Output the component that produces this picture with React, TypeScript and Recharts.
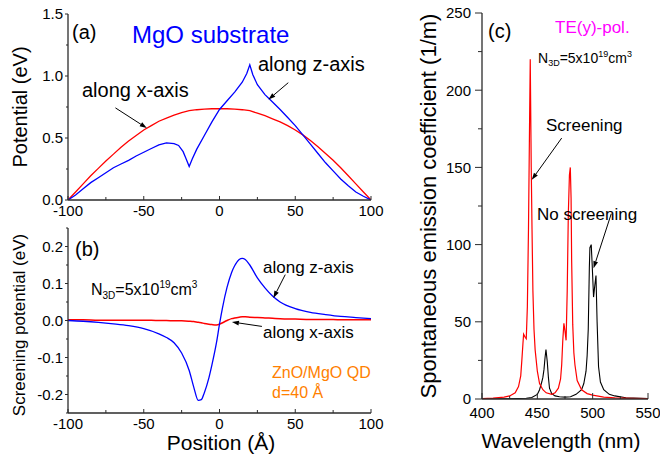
import React from 'react';
import { LineChart, Line, XAxis, YAxis, ReferenceLine } from 'recharts';

const FONT = '"Liberation Sans", Arial, Helvetica, sans-serif';
const AXIS = '#2b2b2b';

// (a) potential profile across the dot
const potX = [-100, -95, -90, -85, -80, -75, -70, -65, -60, -55, -50, -45, -40, -35, -30, -25, -20, -15, -10, -5, 0, 5, 10, 15, 20, 25, 30, 35, 40, 45, 50, 55, 60, 65, 70, 75, 80, 85, 90, 95, 100];
const potAlongX = [0, 0.065, 0.13, 0.195, 0.255, 0.315, 0.37, 0.425, 0.475, 0.52, 0.565, 0.6, 0.635, 0.66, 0.685, 0.705, 0.72, 0.728, 0.733, 0.736, 0.737, 0.736, 0.733, 0.728, 0.72, 0.7, 0.68, 0.655, 0.63, 0.6, 0.565, 0.525, 0.48, 0.43, 0.375, 0.32, 0.26, 0.195, 0.13, 0.065, 0];
const potZX = [-100, -95, -90, -85, -80, -75, -70, -65, -60, -55, -50, -45, -40, -35, -30, -27, -24, -22, -20, -18, -15, -10, -5, 0, 5, 10, 15, 18, 20, 22, 25, 30, 35, 40, 45, 50, 55, 60, 65, 70, 75, 80, 85, 90, 95, 100];
const potAlongZ = [0, 0.04, 0.09, 0.14, 0.18, 0.22, 0.26, 0.29, 0.32, 0.355, 0.385, 0.415, 0.445, 0.46, 0.455, 0.44, 0.39, 0.33, 0.27, 0.33, 0.41, 0.52, 0.63, 0.73, 0.8, 0.87, 0.95, 1.02, 1.09, 1.01, 0.93, 0.85, 0.79, 0.73, 0.665, 0.6, 0.525, 0.45, 0.375, 0.3, 0.235, 0.17, 0.115, 0.065, 0.03, 0];

// (b) screening potential
const scrX = [-100, -90, -80, -70, -60, -50, -40, -35, -30, -25, -20, -17, -14, -12, -10, -7, -5, -2, 0, 2, 5, 8, 10, 13, 15, 17, 20, 25, 30, 35, 40, 50, 60, 70, 80, 90, 100];
const scrAlongZ = [0, -0.002, -0.005, -0.009, -0.014, -0.022, -0.036, -0.046, -0.06, -0.088, -0.135, -0.18, -0.216, -0.214, -0.195, -0.155, -0.12, -0.06, -0.01, 0.035, 0.09, 0.13, 0.148, 0.165, 0.168, 0.165, 0.15, 0.115, 0.088, 0.066, 0.05, 0.032, 0.022, 0.016, 0.011, 0.008, 0.005];
const scrAlongX = [0.002, 0.002, 0.001, 0.001, 0.001, 0.001, 0, 0, -0.001, -0.001, -0.002, -0.003, -0.005, -0.006, -0.008, -0.01, -0.011, -0.012, -0.01, -0.006, 0, 0.005, 0.007, 0.009, 0.01, 0.01, 0.009, 0.008, 0.007, 0.006, 0.005, 0.004, 0.003, 0.003, 0.002, 0.002, 0.002];

// (c) spontaneous emission spectra
const wlRed = [400, 410, 420, 425, 430, 433, 435, 436, 437, 437.6, 439, 440, 441, 442, 443, 443.6, 444.5, 445.2, 446, 447, 448, 450, 452, 455, 458, 463, 466, 469, 471, 472, 473, 474, 475, 476, 477, 478, 479, 479.8, 480.5, 481, 482, 483, 484, 486, 490, 495, 500, 510, 520, 535, 550];
const screened = [0.3, 0.6, 1.2, 2, 4, 8, 15, 25, 36, 42, 40, 39, 60, 110, 180, 220, 150, 110, 70, 45, 32, 18, 10, 6, 4, 3, 4, 7, 13, 22, 38, 49, 44, 38, 70, 120, 145, 150, 130, 90, 48, 30, 22, 12, 6, 3.5, 2.5, 1.2, 0.7, 0.4, 0.3];
const wlBlack = [400, 420, 440, 445, 450, 452, 454, 455, 456, 457, 457.8, 459, 460, 461, 463, 466, 470, 475, 480, 485, 490, 492, 494, 495, 496, 497, 497.5, 498.7, 499.5, 500.8, 502, 503, 504, 505.3, 507, 510, 515, 520, 530, 550];
const noScreen = [0, 0.1, 0.5, 1, 3, 6, 11, 14, 19, 27, 32, 24, 14, 7, 3.5, 2, 1.5, 1.2, 1.5, 3, 6, 10, 18, 28, 45, 85, 98, 100, 88, 66, 74, 80, 50, 21, 11, 6, 3, 2, 0.8, 0.3];

const posTicks = [-100, -75, -50, -25, 0, 25, 50, 75, 100];
const posLabels = [-100, -50, 0, 50, 100];
const potTicks = [0, 0.25, 0.5, 0.75, 1, 1.25, 1.5];
const potLabels = [0, 0.5, 1, 1.5];
const scrTicks = [-0.25, -0.2, -0.15, -0.1, -0.05, 0, 0.05, 0.1, 0.15, 0.2, 0.25];
const scrLabels = [-0.2, -0.1, 0, 0.1, 0.2];
const wlTicks = [400, 425, 450, 475, 500, 525, 550];
const wlLabels = [400, 450, 500, 550];
const emTicks = [0, 25, 50, 75, 100, 125, 150, 175, 200, 225, 250];
const emLabels = [0, 50, 100, 150, 200, 250];

const pts = (xs: number[], ys: number[]) => xs.map((x, i) => ({ x, y: ys[i] }));

type Side = 'bottom' | 'top' | 'left' | 'right';
type TickOpt = {
  side: Side;
  labels?: number[];
  fmt?: (v: number) => string;
  major: number;
  minor: number;
  majorSet: number[];
  size?: number;
  gap?: number;
};

// tick marks (inward for x, outward on the left) plus labels
const tickFn = (o: TickOpt) => (p: any) => {
  const v = p.payload.value;
  const { x, y } = p;
  const isMajor = o.majorSet.some((m) => Math.abs(m - v) < 1e-9);
  const len = isMajor ? o.major : o.minor;
  const hasLabel = o.labels && o.labels.some((m) => Math.abs(m - v) < 1e-9);
  const txt = hasLabel ? (o.fmt ? o.fmt(v) : String(v)) : '';
  const size = o.size || 14;
  const gap = o.gap || 0;
  let ln = null;
  let label = null;
  if (o.side === 'bottom') {
    ln = <line x1={x} x2={x} y1={y} y2={y - len} stroke={AXIS} strokeWidth={1} />;
    if (txt) label = <text x={x} y={y + gap} textAnchor="middle" fontSize={size} fill="#000" fontFamily={FONT}>{txt}</text>;
  } else if (o.side === 'top') {
    ln = <line x1={x} x2={x} y1={y} y2={y + len} stroke={AXIS} strokeWidth={1} />;
  } else if (o.side === 'left') {
    ln = <line x1={x - len} x2={x} y1={y} y2={y} stroke={AXIS} strokeWidth={1} />;
    if (txt) label = <text x={x - gap} y={y + size * 0.36} textAnchor="end" fontSize={size} fill="#000" fontFamily={FONT}>{txt}</text>;
  } else {
    ln = <line x1={x - len} x2={x} y1={y} y2={y} stroke={AXIS} strokeWidth={1} />;
  }
  return <g>{ln}{label}</g>;
};

const Arrow = (p: any) => {
  const { x1, y1, x2, y2 } = p;
  const a = Math.atan2(y2 - y1, x2 - x1);
  const L = 7;
  const W = 2.4;
  const bx = x2 - L * Math.cos(a);
  const by = y2 - L * Math.sin(a);
  const head = `${x2},${y2} ${bx - W * Math.sin(a)},${by + W * Math.cos(a)} ${bx + W * Math.sin(a)},${by - W * Math.cos(a)}`;
  return (
    <g>
      <line x1={x1} y1={y1} x2={bx} y2={by} stroke="#000" strokeWidth={1} />
      <polygon points={head} fill="#000" />
    </g>
  );
};

const axisLine = { stroke: AXIS, strokeWidth: 1.3 };

export default function App() {
  const f1 = (v: number) => v.toFixed(1);
  return (
    <div style={{ position: 'absolute', left: 0, top: 0, width: 660, height: 459, background: '#fff', fontFamily: FONT }}>
      {/* (a) */}
      <div style={{ position: 'absolute', left: 0, top: 0 }}>
        <LineChart width={395} height={225} margin={{ top: 14, right: 24, bottom: 0, left: 0 }}>
          <XAxis dataKey="x" type="number" domain={[-100, 100]} ticks={posTicks} interval={0} allowDataOverflow
            height={25} tickSize={0} tickMargin={0} tickLine={false} axisLine={axisLine}
            tick={tickFn({ side: 'bottom', labels: posLabels, majorSet: posLabels, major: 4, minor: 3, gap: 16, size: 15 })} />
          <XAxis xAxisId="top" orientation="top" type="number" domain={[-100, 100]} ticks={posTicks} interval={0} allowDataOverflow
            height={0} tickSize={0} tickMargin={0} tickLine={false} axisLine={axisLine}
            tick={tickFn({ side: 'top', majorSet: posLabels, major: 4, minor: 3 })} />
          <YAxis type="number" domain={[0, 1.5]} ticks={potTicks} interval={0} allowDataOverflow
            width={68} tickSize={0} tickMargin={0} tickLine={false} axisLine={axisLine}
            tick={tickFn({ side: 'left', labels: potLabels, majorSet: potLabels, fmt: f1, major: 3, minor: 2, gap: 5, size: 15 })} />
          <YAxis yAxisId="right" orientation="right" type="number" domain={[0, 1.5]} ticks={potTicks} interval={0} allowDataOverflow
            width={0} tickSize={0} tickMargin={0} tickLine={false} axisLine={axisLine}
            tick={tickFn({ side: 'right', majorSet: potLabels, major: 4, minor: 3 })} />
          <Line data={pts(potX, potAlongX)} dataKey="y" type="linear" stroke="#ff0000" strokeWidth={1.3} dot={false} isAnimationActive={false} />
          <Line data={pts(potZX, potAlongZ)} dataKey="y" type="linear" stroke="#0000ff" strokeWidth={1.3} dot={false} isAnimationActive={false} />
          <ReferenceLine segment={[{ x: -68.7, y: 0.743 }, { x: -48, y: 0.58 }]} shape={Arrow} ifOverflow="visible" />
          <ReferenceLine segment={[{ x: 45.4, y: 0.946 }, { x: 32.3, y: 0.81 }]} shape={Arrow} ifOverflow="visible" />
        </LineChart>
      </div>

      {/* (b) */}
      <div style={{ position: 'absolute', left: 0, top: 214 }}>
        <LineChart width={395} height={224} margin={{ top: 14, right: 24, bottom: 0, left: 0 }}>
          <XAxis dataKey="x" type="number" domain={[-100, 100]} ticks={posTicks} interval={0} allowDataOverflow
            height={25} tickSize={0} tickMargin={0} tickLine={false} axisLine={axisLine}
            tick={tickFn({ side: 'bottom', labels: posLabels, majorSet: posLabels, major: 4, minor: 3, gap: 16, size: 15 })} />
          <XAxis xAxisId="top" orientation="top" type="number" domain={[-100, 100]} ticks={posTicks} interval={0} allowDataOverflow
            height={0} tickSize={0} tickMargin={0} tickLine={false} axisLine={axisLine}
            tick={tickFn({ side: 'top', majorSet: posLabels, major: 4, minor: 3 })} />
          <YAxis type="number" domain={[-0.25, 0.25]} ticks={scrTicks} interval={0} allowDataOverflow
            width={68} tickSize={0} tickMargin={0} tickLine={false} axisLine={axisLine}
            tick={tickFn({ side: 'left', labels: scrLabels, majorSet: scrLabels, fmt: f1, major: 3, minor: 2, gap: 5, size: 15 })} />
          <YAxis yAxisId="right" orientation="right" type="number" domain={[-0.25, 0.25]} ticks={scrTicks} interval={0} allowDataOverflow
            width={0} tickSize={0} tickMargin={0} tickLine={false} axisLine={axisLine}
            tick={tickFn({ side: 'right', majorSet: scrLabels, major: 4, minor: 4 })} />
          <Line data={pts(scrX, scrAlongX)} dataKey="y" type="monotone" stroke="#ff0000" strokeWidth={1.5} dot={false} isAnimationActive={false} />
          <Line data={pts(scrX, scrAlongZ)} dataKey="y" type="monotone" stroke="#0000ff" strokeWidth={1.3} dot={false} isAnimationActive={false} />
          <ReferenceLine segment={[{ x: 43.4, y: 0.124 }, { x: 35.6, y: 0.061 }]} shape={Arrow} ifOverflow="visible" />
          <ReferenceLine segment={[{ x: 28, y: -0.016 }, { x: 8.2, y: -0.004 }]} shape={Arrow} ifOverflow="visible" />
        </LineChart>
      </div>

      {/* (c) */}
      <div style={{ position: 'absolute', left: 400, top: 0 }}>
        <LineChart width={260} height={424} margin={{ top: 13, right: 12, bottom: 0, left: 0 }}>
          <XAxis dataKey="x" type="number" domain={[400, 550]} ticks={wlTicks} interval={0} allowDataOverflow
            height={25} tickSize={0} tickMargin={0} tickLine={false} axisLine={axisLine}
            tick={tickFn({ side: 'bottom', labels: wlLabels, majorSet: wlLabels, major: 6, minor: 3, gap: 19, size: 15 })} />
          <XAxis xAxisId="top" orientation="top" type="number" domain={[400, 550]} ticks={wlTicks} interval={0} allowDataOverflow
            height={0} tickSize={0} tickMargin={0} tickLine={false} axisLine={axisLine}
            tick={tickFn({ side: 'top', majorSet: wlLabels, major: 6, minor: 3 })} />
          <YAxis type="number" domain={[0, 250]} ticks={emTicks} interval={0} allowDataOverflow
            width={82} tickSize={0} tickMargin={0} tickLine={false} axisLine={axisLine}
            tick={tickFn({ side: 'left', labels: emLabels, majorSet: emLabels, major: 7, minor: 4, gap: 11, size: 15 })} />
          <YAxis yAxisId="right" orientation="right" type="number" domain={[0, 250]} ticks={emTicks} interval={0} allowDataOverflow
            width={0} tickSize={0} tickMargin={0} tickLine={false} axisLine={axisLine}
            tick={tickFn({ side: 'right', majorSet: emLabels, major: 6, minor: 4 })} />
          <Line data={pts(wlBlack, noScreen)} dataKey="y" type="linear" stroke="#000000" strokeWidth={1.1} dot={false} isAnimationActive={false} />
          <Line data={pts(wlRed, screened)} dataKey="y" type="linear" stroke="#ff0000" strokeWidth={1.2} dot={false} isAnimationActive={false} />
          <ReferenceLine segment={[{ x: 472, y: 169 }, { x: 445, y: 142 }]} shape={Arrow} ifOverflow="visible" />
          <ReferenceLine segment={[{ x: 516.8, y: 120 }, { x: 500.8, y: 84.7 }]} shape={Arrow} ifOverflow="visible" />
        </LineChart>
      </div>

      {/* text overlay */}
      <svg width={660} height={459} style={{ position: 'absolute', left: 0, top: 0, pointerEvents: 'none' }} fontFamily={FONT}>
        <text x={72} y={39} fontSize={20}>(a)</text>
        <text x={132} y={43} fontSize={24} fill="#0000ff">MgO substrate</text>
        <text x={82} y={97} fontSize={20}>along x-axis</text>
        <text x={258} y={71} fontSize={20}>along z-axis</text>
        <text transform="translate(27,107) rotate(-90)" textAnchor="middle" fontSize={20}>Potential (eV)</text>

        <text x={75} y={256} fontSize={20}>(b)</text>
        <text x={91} y={295} fontSize={16}>
          N<tspan fontSize={10} dy={4}>3D</tspan><tspan dy={-4}>=5x10</tspan><tspan fontSize={10} dy={-7}>19</tspan><tspan dy={7}>cm</tspan><tspan fontSize={10} dy={-7}>3</tspan>
        </text>
        <text x={263} y={273} fontSize={17}>along z-axis</text>
        <text x={263} y={338} fontSize={17}>along x-axis</text>
        <text x={272} y={378} fontSize={16} fill="#ff8000">ZnO/MgO QD</text>
        <text x={272} y={398} fontSize={16} fill="#ff8000">d=40 Å</text>
        <text transform="translate(25,325) rotate(-90)" textAnchor="middle" fontSize={17}>Screening potential (eV)</text>
        <text x={221} y={450} textAnchor="middle" fontSize={21}>Position (Å)</text>

        <text x={488} y={38} fontSize={20}>(c)</text>
        <text x={555} y={33} fontSize={17} fill="#ff00ff">TE(y)-pol.</text>
        <text x={538} y={63} fontSize={14}>
          N<tspan fontSize={9} dy={3}>3D</tspan><tspan dy={-3}>=5x10</tspan><tspan fontSize={9} dy={-6}>19</tspan><tspan dy={6}>cm</tspan><tspan fontSize={9} dy={-6}>3</tspan>
        </text>
        <text x={546} y={131} fontSize={17}>Screening</text>
        <text x={537} y={220} fontSize={17}>No screening</text>
        <text x={561} y={448} textAnchor="middle" fontSize={21}>Wavelength (nm)</text>
        <text transform="translate(436,206) rotate(-90)" textAnchor="middle" fontSize={22}>Spontaneous emission coefficient (1/m)</text>
      </svg>
    </div>
  );
}
